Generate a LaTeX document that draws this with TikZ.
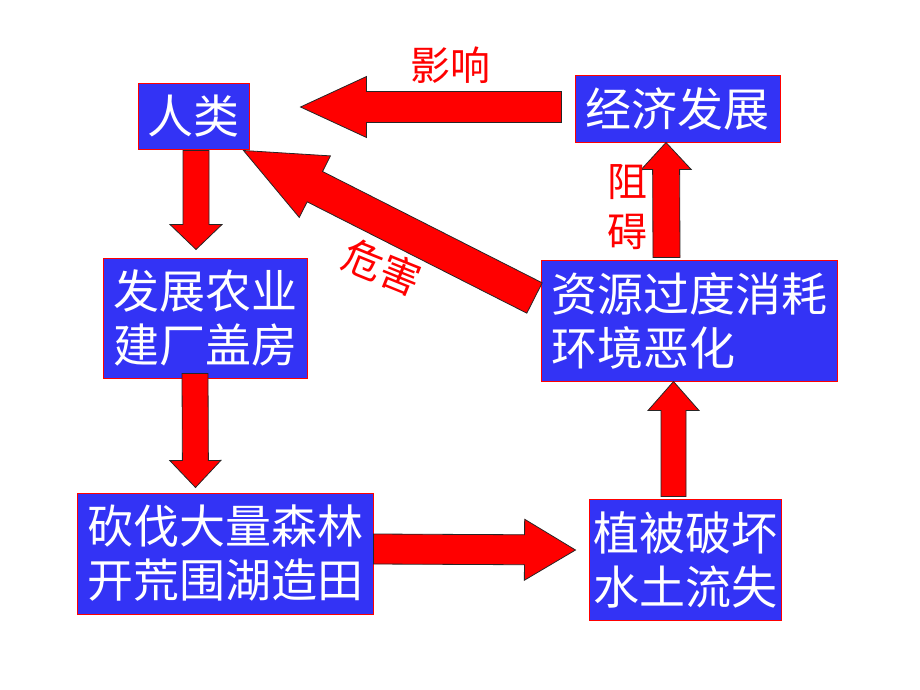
\documentclass[tikz,border=0pt]{standalone}
\usepackage{fontspec}
\newfontfamily\cjk{Noto Sans CJK SC}
\usetikzlibrary{calc}

\definecolor{boxblue}{RGB}{51,51,245}
\definecolor{arrowred}{RGB}{255,0,0}

% block arrow: tail, tip, half shaft, half head, head length
\newcommand{\blockarrow}[5]{%
  \coordinate (ba-s) at (#1);
  \coordinate (ba-e) at (#2);
  \coordinate (ba-h) at ($(ba-e)!#5!(ba-s)$);
  \filldraw[fill=arrowred, draw=black!85, line width=0.8pt, line join=miter]
    ($(ba-s)!#3!90:(ba-e)$) -- ($(ba-h)!#3!90:(ba-e)$) -- ($(ba-h)!#4!90:(ba-e)$)
    -- (ba-e) -- ($(ba-h)!#4!-90:(ba-e)$) -- ($(ba-h)!#3!-90:(ba-e)$)
    -- ($(ba-s)!#3!-90:(ba-e)$) -- cycle;
}

\begin{document}
\begin{tikzpicture}[x=1pt, y=-1pt,
  box/.style={draw=red, line width=1pt, fill=boxblue, text=white, inner sep=0pt,
    align=center, font=\cjk\fontsize{46}{54}\selectfont},
  lbl/.style={text=red, align=center, font=\cjk\fontsize{40}{50}\selectfont}]
  \useasboundingbox (0,0) rectangle (920,690);

  \node (renlei) [box, minimum width=111pt, minimum height=65pt] at (193.5,116.5) {人类};
  \node (jingji) [box, minimum width=205pt, minimum height=66pt] at (677.5,109) {经济发展};
  \node (fazhan) [box, minimum width=204pt, minimum height=120pt] at (205,318) {发展农业\\建厂盖房};
  \node (ziyuan) [box, align=left, minimum width=296pt, minimum height=121pt] at (689,320.5) {资源过度消耗\\环境恶化};
  \node (kanfa) [box, minimum width=296pt, minimum height=121pt] at (225,553.5) {砍伐大量森林\\开荒围湖造田};
  \node (zhibei) [box, minimum width=192pt, minimum height=121pt] at (685,559.5) {植被破坏\\水土流失};

  % Downward arrows
  \blockarrow{$(renlei.south)+(2.5,1)$}{$(fazhan.north)+(-9,-8)$}{13pt}{26pt}{25pt}
  \blockarrow{$(fazhan.south)+(-10,-5)$}{$(kanfa.north)+(-29.5,-5)$}{13pt}{25.5pt}{27pt}

  % Bottom arrow and upward arrows
  \blockarrow{$(kanfa.east)+(0,-4.5)$}{$(zhibei.west)+(-13,-9.5)$}{15pt}{30.5pt}{51pt}
  \blockarrow{$(zhibei.north)+(-11.5,-2)$}{$(ziyuan.south)+(-15.5,0)$}{12.5pt}{25.5pt}{29pt}
  \blockarrow{$(ziyuan.north)+(-22.5,-2)$}{$(jingji.south)+(-11.5,0)$}{13.5pt}{25pt}{27pt}

  % Arrows back to the people
  \blockarrow{$(jingji.west)+(-13,-2)$}{$(renlei.east)+(51,-9.5)$}{15.5pt}{30.5pt}{66pt}
  \blockarrow{$(ziyuan.west)+(-6,-22.5)$}{$(renlei.south east)+(-6,1)$}{17pt}{34.5pt}{80pt}

  \node (yingxiang) [lbl] at (450,65) {影响};
  \node (zuai) [lbl] at (627,207) {阻\\碍};
  \node (weihai) [lbl, rotate=-22] at (382,267) {危害};
\end{tikzpicture}
\end{document}
